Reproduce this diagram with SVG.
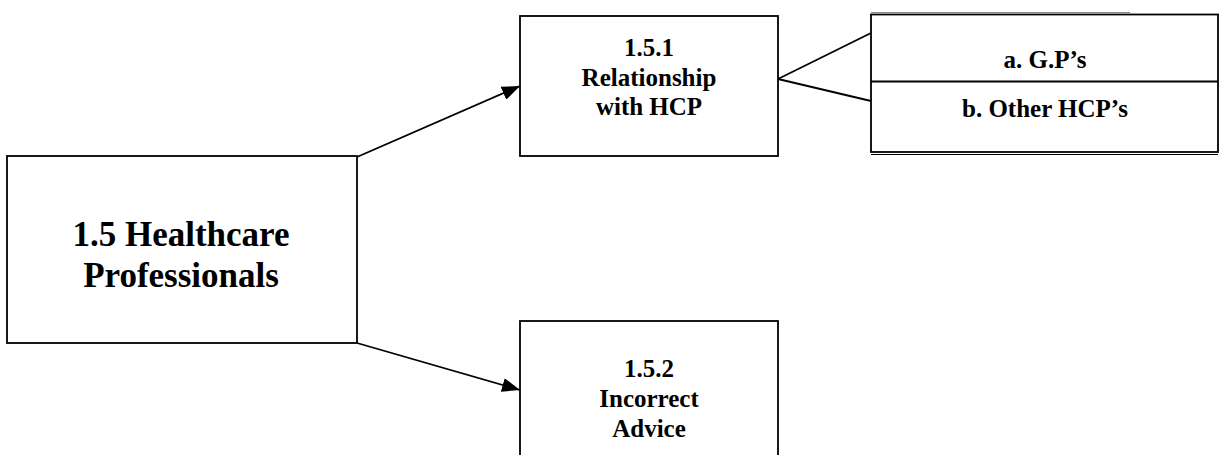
<svg xmlns="http://www.w3.org/2000/svg" width="1221" height="455" viewBox="0 0 1221 455">
<style>
.box{fill:#fff;stroke:#000;stroke-width:1.8}
.ln{fill:none;stroke:#000;stroke-width:1.8}
.t{font-family:"Liberation Serif","Times New Roman",serif;font-weight:bold;fill:#000;text-anchor:middle}
.big{font-size:35px}
.sm{font-size:25px}
</style>
<defs>
<marker id="ah" viewBox="0 0 18 14" refX="18" refY="7" markerWidth="18" markerHeight="14" markerUnits="userSpaceOnUse" orient="auto">
<path d="M0,0 L18,7 L0,14 Z" fill="#000"/>
</marker>
</defs>
<rect width="1221" height="455" fill="#fff"/>
<g id="connectors">
<line class="ln" x1="357" y1="157" x2="520" y2="86" marker-end="url(#ah)"/>
<line class="ln" x1="357" y1="343" x2="520" y2="390" marker-end="url(#ah)"/>
<line class="ln" x1="778" y1="79" x2="871" y2="33"/>
<line class="ln" x1="778" y1="79" x2="871" y2="101"/>
</g>
<g id="n-main">
<rect class="box" x="7" y="156" width="350" height="187"/>
<text class="t big" x="181" y="246">1.5 Healthcare</text>
<text class="t big" x="181" y="287">Professionals</text>
</g>
<g id="n-151">
<rect class="box" x="520" y="16" width="258" height="140"/>
<text class="t sm" x="649" y="56">1.5.1</text>
<text class="t sm" x="649" y="85.5">Relationship</text>
<text class="t sm" x="649" y="115">with HCP</text>
</g>
<g id="n-152">
<rect class="box" x="520" y="321" width="258" height="150"/>
<text class="t sm" x="649" y="377">1.5.2</text>
<text class="t sm" x="649" y="407">Incorrect</text>
<text class="t sm" x="649" y="437">Advice</text>
</g>
<g id="n-sub">
<rect class="box" x="871" y="14.5" width="347" height="137.5"/>
<line x1="871" y1="12.5" x2="1130" y2="12.5" stroke="#888" stroke-width="1"/>
<line x1="871" y1="154.5" x2="1218" y2="154.5" stroke="#000" stroke-width="1.2"/>
<line class="ln" x1="871" y1="81.5" x2="1218" y2="81.5"/>
<text class="t sm" x="1045" y="68">a. G.P’s</text>
<text class="t sm" x="1045" y="117">b. Other HCP’s</text>
</g>
</svg>
